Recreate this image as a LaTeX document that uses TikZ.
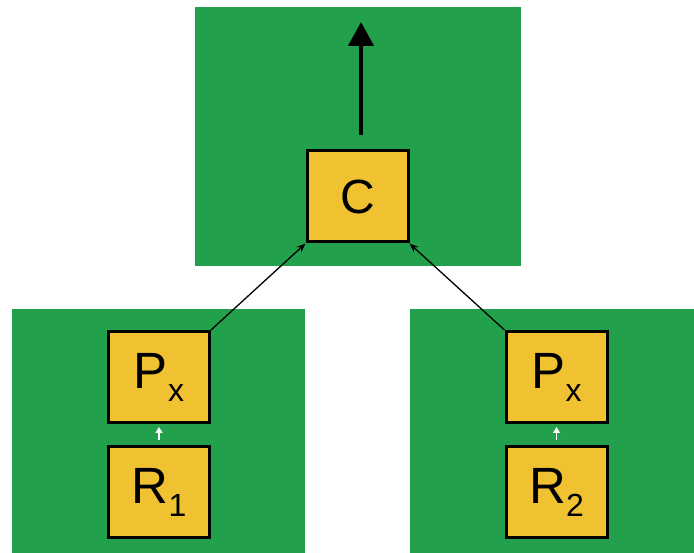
\documentclass[tikz,border=0pt]{standalone}
\usepackage{fontspec}
\setmainfont{Liberation Sans}
\usetikzlibrary{arrows.meta}

\definecolor{leaf}{RGB}{34,160,75}
\definecolor{mustard}{RGB}{240,194,50}

% big letter with a lowered small index
\newcommand{\boxlabel}[2]{\fontsize{51}{51}\selectfont #1\raisebox{-13pt}{\fontsize{32}{32}\selectfont #2}}

\begin{document}
\begin{tikzpicture}[x=1pt,y=1pt,
        unit/.style={draw,line width=3pt,fill=mustard,minimum width=101pt,minimum height=91pt,inner sep=0pt},
        feed/.style={-{Stealth[length=9pt,width=7pt]},line width=1.3pt},
        up/.style={-{Triangle[length=24pt,width=25pt]},line width=4.5pt},
        tiny/.style={white,-{Triangle[length=6pt,width=7pt]},line width=1.8pt}]
                \useasboundingbox (0,0) rectangle (694,553);
                \fill[white] (0,0) rectangle (694,553);
                % green panels
                \fill[leaf] (195,287) rectangle (521,546);
                \fill[leaf] (12,0) rectangle (305,244);
                \fill[leaf] (410,0) rectangle (694,244);
                % boxes
                \node[unit] (C) at (357.5,356.5) {\fontsize{48}{48}\selectfont C};
                \node[unit] (P1) at (159,176) {\boxlabel{P}{x}};
                \node[unit] (R1) at (159,60.5) {\boxlabel{R}{1}};
                \node[unit] (P2) at (556.5,176) {\boxlabel{P}{x}};
                \node[unit] (R2) at (556.5,60.5) {\boxlabel{R}{2}};
                % arrows
                \coordinate (base) at (361,418);
                \coordinate (top) at (361,531);
                \draw[up] (base) -- (top);
                \draw[feed] (P1.north east) -- (C.south west);
                \draw[feed] (P2.north west) -- (C.south east);
                \draw[tiny,shorten <=5pt,shorten >=3pt] (R1.north) -- (P1.south);
                \draw[tiny,shorten <=5pt,shorten >=3pt] (R2.north) -- (P2.south);
            \end{tikzpicture}
\end{document}
